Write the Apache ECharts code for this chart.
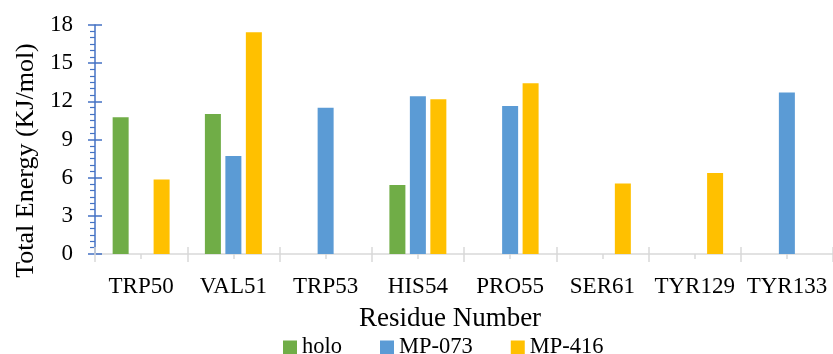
<!DOCTYPE html>
<html>
<head>
<meta charset="utf-8">
<script src="https://cdn.jsdelivr.net/npm/echarts@6/dist/echarts.min.js"></script>
<style>html,body{margin:0;padding:0;background:#fff}#c{width:833px;height:354px}</style>
</head>
<body>
<div id="c"></div>
<script>
var categories = ['TRP50', 'VAL51', 'TRP53', 'HIS54', 'PRO55', 'SER61', 'TYR129', 'TYR133'];
var holo = [10.75, 11.0, null, 5.43, null, null, null, null];
var mp073 = [null, 7.71, 11.49, 12.39, 11.63, null, null, 12.70];
var mp416 = [5.85, 17.43, null, 12.17, 13.43, 5.54, 6.37, null];
var yTicks = [0, 3, 6, 9, 12, 15, 18];

var FONT = 'Liberation Serif';
var chart = echarts.init(document.getElementById('c'), null, {renderer: 'canvas'});
var yMin = yTicks[0], yMax = yTicks[yTicks.length - 1], yStep = yTicks[1] - yTicks[0];

function barSeries(name, data, color) {
  return {
    name: name, type: 'bar', data: data, barWidth: 16, barGap: '28%',
    xAxisIndex: 0, yAxisIndex: 0,
    itemStyle: {color: color}
  };
}

chart.setOption({
  animation: false,
  grid: {left: 95, right: -6, top: 25, bottom: 100, containLabel: false},
  legend: {
    left: 283, top: 336, padding: 0, itemWidth: 14, itemHeight: 14, itemGap: 38,
    icon: 'rect',
    textStyle: {fontFamily: FONT, fontSize: 22.5, color: '#000'},
    data: ['holo', 'MP-073', 'MP-416']
  },
  xAxis: [
    {
      type: 'category', data: categories, position: 'bottom',
      name: 'Residue Number', nameLocation: 'middle', nameGap: 51,
      nameTextStyle: {fontFamily: FONT, fontSize: 27, color: '#000', padding: [0, 28, 0, 0]},
      axisLine: {show: true, lineStyle: {color: '#d9d9d9', width: 1.5}},
      axisTick: {show: true, length: 8, inside: false, lineStyle: {color: '#d9d9d9', width: 1.5}},
      axisLabel: {fontFamily: FONT, fontSize: 23, color: '#000', margin: 21, interval: 0},
      splitLine: {show: false}
    },
    {
      type: 'category', data: categories, position: 'bottom',
      axisLine: {show: false},
      axisTick: {show: true, length: 7, inside: true, lineStyle: {color: '#d9d9d9', width: 1.5}},
      axisLabel: {show: false}, splitLine: {show: false}
    },
    {
      type: 'category', data: categories, position: 'bottom',
      axisLine: {show: false},
      axisTick: {show: true, alignWithLabel: true, length: 5, inside: false, lineStyle: {color: '#d9d9d9', width: 1.5}},
      axisLabel: {show: false}, splitLine: {show: false}
    }
  ],
  yAxis: [
    {
      type: 'value', min: yMin, max: yMax, interval: yStep, position: 'left',
      name: 'Total Energy (KJ/mol)', nameLocation: 'middle', nameGap: 53,
      nameTextStyle: {fontFamily: FONT, fontSize: 26, color: '#000', padding: [0, 42, 0, 0]},
      axisLine: {show: true, lineStyle: {color: '#4472c4', width: 1.5}},
      axisTick: {show: true, length: 7, inside: false, lineStyle: {color: '#4472c4', width: 1.5}},
      minorTick: {show: true, splitNumber: 6, length: 5, lineStyle: {color: '#4472c4', width: 1.2}},
      axisLabel: {fontFamily: FONT, fontSize: 23, color: '#000', margin: 22},
      splitLine: {show: false}
    },
    {
      type: 'value', min: yMin, max: yMax, interval: yStep, position: 'left',
      axisLine: {show: false},
      axisTick: {show: true, length: 7, inside: true, lineStyle: {color: '#4472c4', width: 1.5}},
      axisLabel: {show: false}, splitLine: {show: false}
    }
  ],
  series: [
    barSeries('holo', holo, '#70ad47'),
    barSeries('MP-073', mp073, '#5b9bd5'),
    barSeries('MP-416', mp416, '#ffc000')
  ]
});
</script>
</body>
</html>
